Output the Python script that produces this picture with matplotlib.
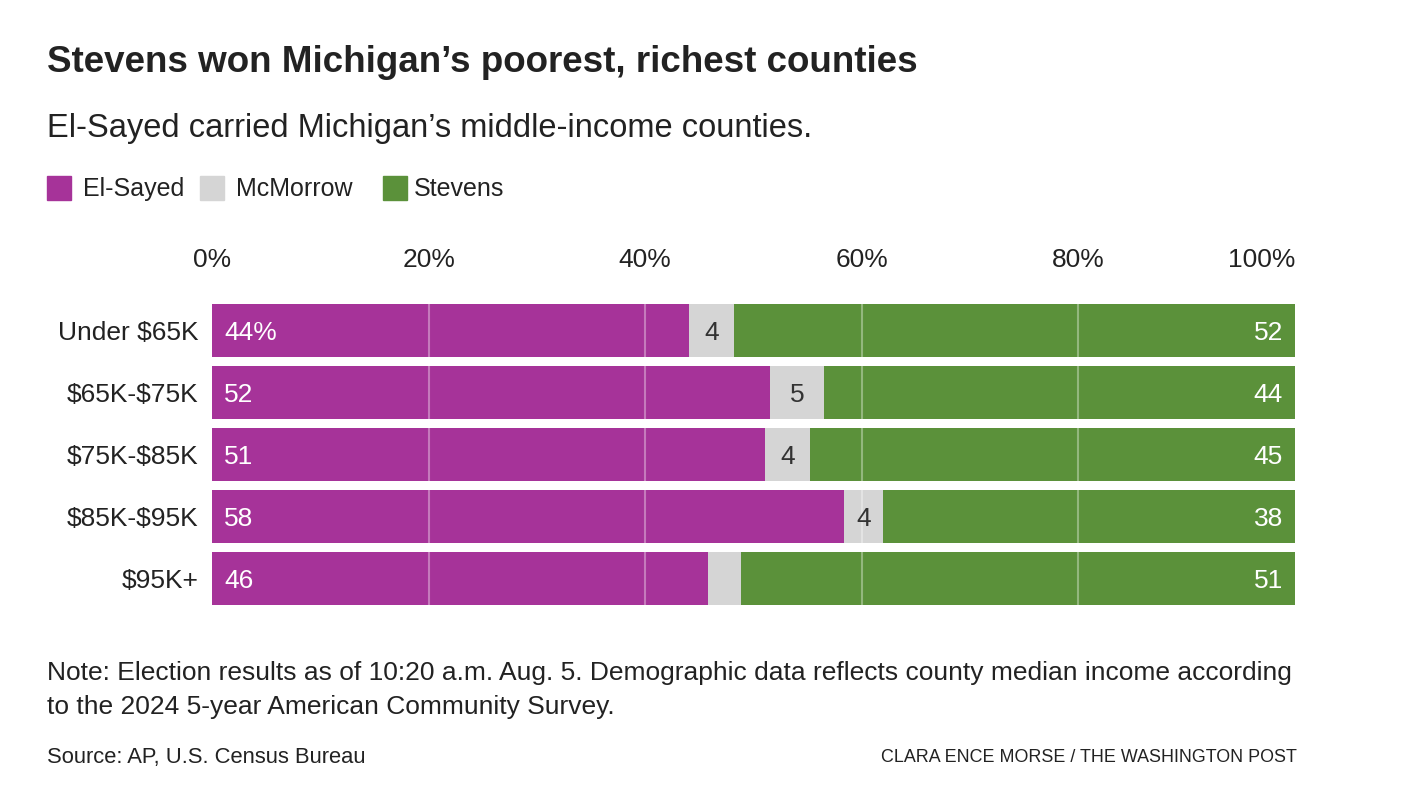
import matplotlib
matplotlib.use("Agg")
import matplotlib.pyplot as plt
from matplotlib.patches import Rectangle

# data
groups = ["Under $65K", "$65K-$75K", "$75K-$85K", "$85K-$95K", "$95K+"]
el_sayed = [44.0, 51.5, 51.1, 58.4, 45.8]
mcmorrow = [4.2, 5.0, 4.1, 3.6, 3.0]
stevens = [51.8, 43.5, 44.8, 38.0, 51.2]
el_labels = ["44%", "52", "51", "58", "46"]
mc_labels = ["4", "5", "4", "4", ""]
st_labels = ["52", "44", "45", "38", "51"]
ticks = [0, 20, 40, 60, 80, 100]

PURPLE = "#a63399"
GRAY = "#d5d5d5"
GREEN = "#5b913a"
INK = "#222222"

plt.rcParams["font.family"] = ["Liberation Sans", "DejaVu Sans"]
plt.rcParams["text.parse_math"] = False

W, H = 1406, 806
fig = plt.figure(figsize=(W / 100, H / 100), dpi=100)

ax = fig.add_axes([212 / W, 1 - 609.5 / H, 1083 / W, 310 / H])
y = list(range(len(groups)))
hgt = 0.855
left2 = [a + b for a, b in zip(el_sayed, mcmorrow)]
ax.barh(y, el_sayed, height=hgt, color=PURPLE, zorder=1)
ax.barh(y, mcmorrow, left=el_sayed, height=hgt, color=GRAY, zorder=1)
ax.barh(y, stevens, left=left2, height=hgt, color=GREEN, zorder=1)

for t in ticks[1:-1]:
    ax.axvline(t, color="white", alpha=0.35, lw=1.5, zorder=2)

fs = 19
for i in y:
    ax.text(1.1, i + 0.04, el_labels[i], color="white", fontsize=fs, va="center", ha="left", zorder=3)
    if mc_labels[i]:
        ax.text(el_sayed[i] + mcmorrow[i] / 2, i + 0.04, mc_labels[i], color="#333333",
                fontsize=fs, va="center", ha="center", zorder=3)
    ax.text(98.9, i + 0.04, st_labels[i], color="white", fontsize=fs, va="center", ha="right", zorder=3)

ax.set_xlim(0, 100)
ax.set_ylim(len(groups) - 0.5, -0.5)
ax.set_yticks(y)
ax.set_yticklabels(groups, fontsize=fs, color=INK)
ax.set_xticks(ticks)
ax.set_xticklabels([f"{t}%" for t in ticks], fontsize=fs, color=INK)
ax.xaxis.tick_top()
ax.tick_params(axis="x", length=0, pad=20)
ax.tick_params(axis="y", length=0, pad=10)
# last top label sits flush with the bar ends
ax.xaxis.get_major_ticks()[-1].label2.set_horizontalalignment("right")
for s in ax.spines.values():
    s.set_visible(False)

# titles
fig.text(47 / W, 1 - 63 / H, "Stevens won Michigan\u2019s poorest, richest counties",
         fontsize=26.5, fontweight="bold", color=INK, va="center", ha="left")
fig.text(47 / W, 1 - 128 / H, "El-Sayed carried Michigan\u2019s middle-income counties.",
         fontsize=23.5, color=INK, va="center", ha="left")

# legend
leg = [("El-Sayed", PURPLE, 47, 83), ("McMorrow", GRAY, 200, 236), ("Stevens", GREEN, 383, 414)]
for name, col, sx, tx in leg:
    fig.patches.append(Rectangle((sx / W, 1 - 200 / H), 24 / W, 24 / H,
                                 transform=fig.transFigure, color=col))
    fig.text(tx / W, 1 - 189 / H, name, fontsize=18, color=INK, va="center", ha="left")

# notes
fig.text(47 / W, 1 - 673 / H,
         "Note: Election results as of 10:20 a.m. Aug. 5. Demographic data reflects county median income according",
         fontsize=19, color=INK, va="center", ha="left")
fig.text(47 / W, 1 - 707 / H, "to the 2024 5-year American Community Survey.",
         fontsize=19, color=INK, va="center", ha="left")
fig.text(47 / W, 1 - 758 / H, "Source: AP, U.S. Census Bureau",
         fontsize=15.8, color=INK, va="center", ha="left")
fig.text(1297 / W, 1 - 758 / H, "CLARA ENCE MORSE / THE WASHINGTON POST",
         fontsize=12.9, color=INK, va="center", ha="right")

fig.savefig("out.png", dpi=100, facecolor="white")
